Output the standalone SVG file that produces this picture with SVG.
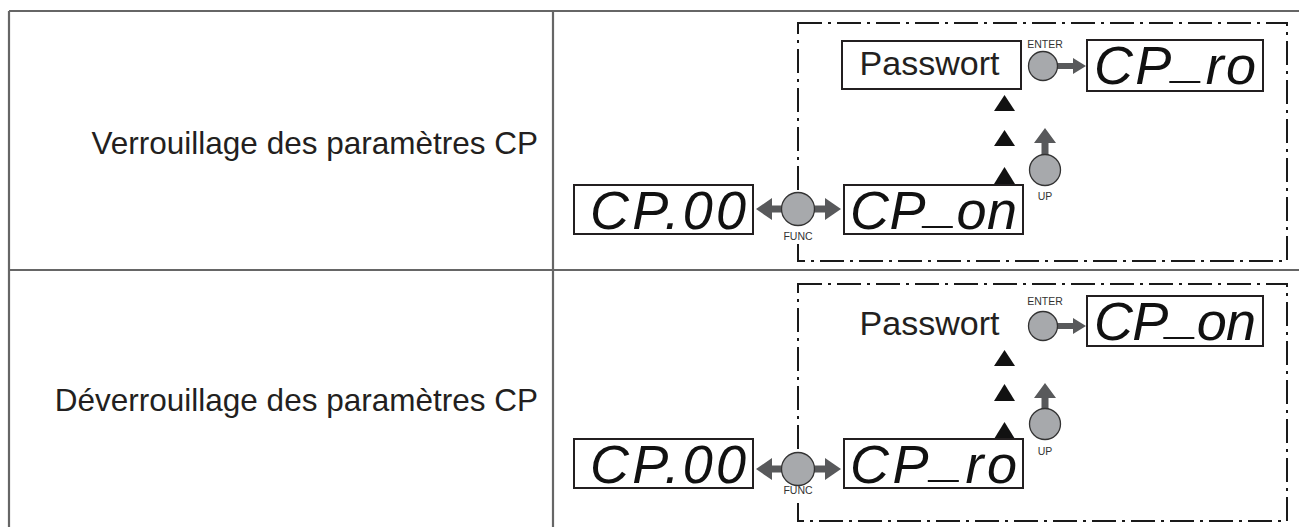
<svg xmlns="http://www.w3.org/2000/svg" width="1299" height="527" viewBox="0 0 1299 527">
<style>
.grid{stroke:#666;stroke-width:2.2;fill:none}
.dash{stroke:#1a1a1a;stroke-width:2;fill:none;stroke-dasharray:24 6 3 6}
.lbl{font-family:"Liberation Sans",Arial,sans-serif;font-size:31.5px;fill:#231f20}
.pw{font-family:"Liberation Sans",Arial,sans-serif;font-size:34px;fill:#231f20}
.disp{fill:#fff;stroke:#231f20;stroke-width:2}
.seg{font-family:"Liberation Sans",Arial,sans-serif;font-size:54px;font-style:italic;fill:#111}
.btn{fill:#a7a9ac;stroke:#333;stroke-width:1.3}
.key{font-family:"Liberation Sans",Arial,sans-serif;font-size:10.5px;fill:#333;text-anchor:middle}
.arr{fill:#58595b}
.tri{fill:#111}
</style>

<g id="table">
<line class="grid" x1="9" y1="11" x2="1299" y2="11"/>
<line class="grid" x1="9" y1="270" x2="1299" y2="270"/>
<line class="grid" x1="9" y1="11" x2="9" y2="527"/>
<line class="grid" x1="553" y1="11" x2="553" y2="527"/>
</g>

<g id="label-row1"><text class="lbl" x="538" y="154" text-anchor="end">Verrouillage des paramètres CP</text></g>
<g id="label-row2"><text class="lbl" x="538" y="411" text-anchor="end">Déverrouillage des paramètres CP</text></g>

<g id="frames">
<rect class="dash" x="798" y="23" width="489" height="238"/>
<rect class="dash" x="798" y="284" width="489" height="237"/>
</g>

<g id="connectors">
<path class="arr" d="M1057,63 H1073 V58 L1086,66 L1073,74 V69 H1057 Z"/>
<path class="arr" d="M1041.5,156 V143 H1034 L1045,128 L1056,143 H1048.5 V156 Z"/>
<path class="arr" d="M756,209 L772,198 V205.5 H825 V198 L841,209 L825,220 V212.5 H772 V220 Z"/>
<polygon class="tri" points="994,111 1004.5,95 1015,111"/>
<polygon class="tri" points="994,146 1004.5,130 1015,146"/>
<polygon class="tri" points="994,184 1004.5,167 1015,184"/>
<path class="arr" d="M1057,323 H1073 V318 L1086,326 L1073,334 V329 H1057 Z"/>
<path class="arr" d="M1041.5,410 V398 H1034 L1045,383 L1056,398 H1048.5 V410 Z"/>
<path class="arr" d="M756,469 L772,458 V465.5 H825 V458 L841,469 L825,480 V472.5 H772 V480 Z"/>
<polygon class="tri" points="994,366 1004.5,350 1015,366"/>
<polygon class="tri" points="994,401 1004.5,384 1015,401"/>
<polygon class="tri" points="994,439 1004.5,422 1015,439"/>
</g>

<g id="passwort1">
<rect class="disp" x="842" y="41" width="179" height="48"/>
<text class="pw" x="929.5" y="75" text-anchor="middle">Passwort</text>
</g>
<g id="enter1">
<text class="key" x="1045" y="48">ENTER</text>
<circle class="btn" cx="1043" cy="66" r="14.5"/>
</g>
<g id="cpro1">
<rect class="disp" x="1087" y="40" width="176" height="51"/>
<text class="seg" x="1094" y="84" textLength="162" lengthAdjust="spacing">CP<tspan dy="-8">_</tspan><tspan dy="8">ro</tspan></text>
</g>
<g id="up1">
<circle class="btn" cx="1045" cy="170" r="15.5"/>
<text class="key" x="1045" y="200">UP</text>
</g>
<g id="cpon1">
<rect class="disp" x="844" y="185" width="179" height="49"/>
<text class="seg" x="850" y="229" textLength="167" lengthAdjust="spacing">CP<tspan dy="-8">_</tspan><tspan dy="8">on</tspan></text>
</g>
<g id="cp00-1">
<rect class="disp" x="574" y="185" width="179" height="49"/>
<text class="seg" x="590" y="229" textLength="156" lengthAdjust="spacing">CP.00</text>
</g>
<g id="func1">
<rect x="785" y="226" width="26" height="17" fill="#fff"/>
<circle class="btn" cx="798" cy="209" r="16.5"/>
<text class="key" x="798" y="240">FUNC</text>
</g>

<g id="passwort2">
<text class="pw" x="929.5" y="335" text-anchor="middle">Passwort</text>
</g>
<g id="enter2">
<text class="key" x="1045" y="305">ENTER</text>
<circle class="btn" cx="1043" cy="326" r="14.5"/>
</g>
<g id="cpon2">
<rect class="disp" x="1087" y="296" width="176" height="50"/>
<text class="seg" x="1094" y="340" textLength="162" lengthAdjust="spacing">CP<tspan dy="-8">_</tspan><tspan dy="8">on</tspan></text>
</g>
<g id="up2">
<circle class="btn" cx="1045" cy="424" r="15.5"/>
<text class="key" x="1045" y="455">UP</text>
</g>
<g id="cpro2">
<rect class="disp" x="844" y="439" width="179" height="49"/>
<text class="seg" x="850" y="483" textLength="167" lengthAdjust="spacing">CP<tspan dy="-8">_</tspan><tspan dy="8">ro</tspan></text>
</g>
<g id="cp00-2">
<rect class="disp" x="574" y="439" width="179" height="49"/>
<text class="seg" x="590" y="483" textLength="156" lengthAdjust="spacing">CP.00</text>
</g>
<g id="func2">
<rect x="785" y="486" width="26" height="11" fill="#fff"/>
<circle class="btn" cx="798" cy="469" r="16.5"/>
<text class="key" x="798" y="494">FUNC</text>
</g>
</svg>
